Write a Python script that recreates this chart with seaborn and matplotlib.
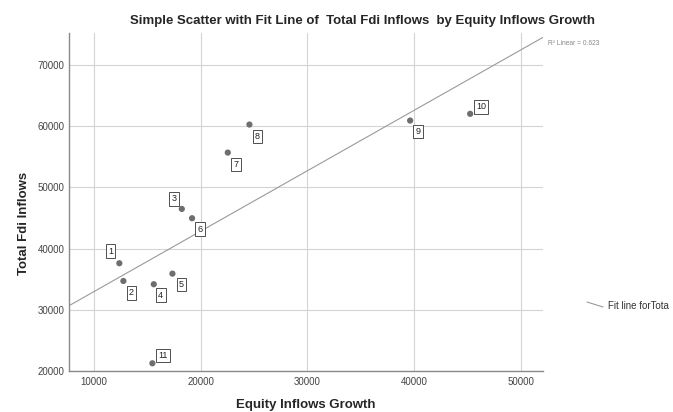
import numpy as np
import pandas as pd
import seaborn as sns
import matplotlib.pyplot as plt

# values
case_ids = ["1", "2", "3", "4", "5", "6", "7", "8", "9", "10", "11"]
equity_growth = [12370, 12750, 18230, 15600, 17350, 19190, 22540, 24570, 39640, 45270, 15470]
total_fdi = [37600, 34700, 46470, 34170, 35900, 44950, 55670, 60250, 60900, 62000, 21260]
# label offsets (pixels) of the boxed case numbers
label_dx = [-9, 8, -8, 7, 9, 8, 8, 8, 8, 11, 11]
label_dy = [12, -12, 10, -11, -11, -11, -12, -12, -11, 7, 8]
r2_shown = 0.623  # as printed on the chart

x_ticks = [10000, 20000, 30000, 40000, 50000]
y_ticks = [20000, 30000, 40000, 50000, 60000, 70000]

df = pd.DataFrame({"Equity Inflows Growth": equity_growth, "Total Fdi Inflows": total_fdi, "case": case_ids})

sns.set_style("white")
plt.rcParams['font.family'] = ['Liberation Sans', 'DejaVu Sans']

fig = plt.figure(figsize=(6.73, 4.12), dpi=100)
ax = fig.add_axes([69 / 673, 1 - 371 / 412, (543 - 69) / 673, (371 - 33) / 412])

ax.set_xlim(7650, 52100)
ax.set_ylim(20000, 75200)

# fit line across the whole axis, then the points on top
sns.regplot(data=df, x="Equity Inflows Growth", y="Total Fdi Inflows", ax=ax, ci=None,
            truncate=False, scatter=False, line_kws={'color': '#9a9a9a', 'linewidth': 0.8})
sns.scatterplot(data=df, x="Equity Inflows Growth", y="Total Fdi Inflows", ax=ax,
                color='#6e6e6e', s=20, edgecolor='none', zorder=3)

for cid, xv, yv, dx, dy in zip(case_ids, equity_growth, total_fdi, label_dx, label_dy):
    ax.annotate(cid, (xv, yv), xytext=(dx, dy), textcoords='offset pixels',
                ha='center', va='center', fontsize=6.5, color='#222222',
                bbox=dict(boxstyle='square,pad=0.25', fc='white', ec='#333333', lw=0.6), zorder=4)

ax.text(1.01, 0.97, f"R² Linear = {r2_shown:.3f}", transform=ax.transAxes, fontsize=4.8,
        color='#888888', va='center', ha='left', clip_on=False)

ax.set_xticks(x_ticks)
ax.set_yticks(y_ticks)
ax.grid(True, color='#d4d4d4', linewidth=0.8)
ax.set_axisbelow(True)
ax.tick_params(axis='both', labelsize=7, length=0, colors='#444444', pad=4)
ax.tick_params(axis='y', pad=3)
for side in ['top', 'right']:
    ax.spines[side].set_visible(False)
for side in ['left', 'bottom']:
    ax.spines[side].set_color('#8a8a8a')
    ax.spines[side].set_linewidth(1.0)

ax.set_xlabel("Equity Inflows Growth", fontsize=9.5, fontweight='bold')
ax.set_ylabel("Total Fdi Inflows", fontsize=9.5, fontweight='bold')
ax.xaxis.set_label_coords((306 - 69) / (543 - 69), -(399 - 371) / (371 - 33))
ax.yaxis.set_label_coords(-(69 - 30) / (543 - 69), (371 - 223) / (371 - 33))

fig.text(362 / 673, 1 - 21 / 412, "Simple Scatter with Fit Line of  Total Fdi Inflows  by Equity Inflows Growth",
         ha='center', va='center', fontsize=9.5, fontweight='bold')

# legend entry, cut at the right edge as in the original
fig.add_artist(plt.Line2D([587 / 673, 603 / 673], [1 - 302 / 412, 1 - 307 / 412],
                          color='#9a9a9a', linewidth=0.8))
fig.text(608 / 673, 1 - 306 / 412, "Fit line forTota", fontsize=7,
         ha='left', va='center', color='#333333')

plt.savefig("out.png", dpi=100)
plt.close()
